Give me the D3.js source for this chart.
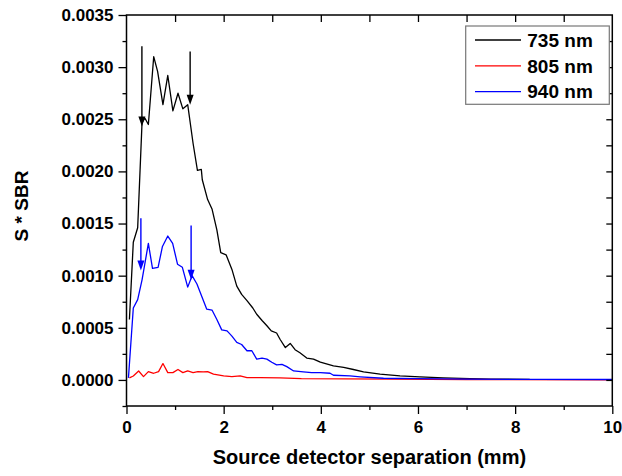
<!DOCTYPE html>
<html>
<head>
<meta charset="utf-8">
<script src="https://cdn.jsdelivr.net/npm/d3@7"></script>
<style>
  body { margin: 0; background: #fff; }
  text { font-family: Arial, "Liberation Sans", sans-serif; font-weight: bold; fill: #000; }
</style>
</head>
<body>
<svg id="svg"></svg>
<script>
// data (x in mm, y in S*SBR)
var x735 = [0.06,0.14,0.23,0.32,0.38,0.45,0.56,0.64,0.75,0.85,0.955,1.06,1.16,1.26,1.37,1.46,1.54,1.56,1.67,1.76,1.86,1.94,2.05,2.17,2.27,2.37,2.48,2.6,2.68,2.79,2.89,2.98,3.09,3.16,3.27,3.37,3.47,3.57,3.71,3.85,3.99,4.26,4.47,4.67,4.88,5.22,5.63,6.04,6.52,7.07,7.5,8.3]
var y735 = [0.00058,0.00132,0.00146,0.00247,0.00251,0.00245,0.0031,0.00296,0.00264,0.00292,0.00258,0.00275,0.0026,0.00264,0.00227,0.00201,0.00202,0.00192,0.00173,0.00164,0.00144,0.00122,0.0012,0.00106,0.0009,0.00082,0.00076,0.00069,0.00063,0.00057,0.00052,0.00047,0.00045,0.00039,0.00031,0.00035,0.00029,0.00026,0.00021,0.0002,0.00017,0.000134,0.00012,0.0001,0.000077,0.000055,0.000038,0.000029,0.00002,0.000013,0.000008,0.000005]

var x805 = [0.06,0.14,0.25,0.35,0.45,0.56,0.66,0.75,0.85,0.955,1.06,1.16,1.26,1.37,1.47,1.58,1.67,1.79,2.0,2.17,2.34,2.48,2.75,3.16,3.6,4.5,5.5,7,10]
var y805 = [0.00002,0.000038,0.000086,0.000032,0.00008,0.000064,0.00008,0.000157,0.00007,0.00007,0.0001,0.00007,0.000086,0.00007,0.00008,0.000077,0.00008,0.000055,0.000038,0.000032,0.000038,0.000022,0.000022,0.00002,0.000012,0.00001,0.000008,0.000004,0.000002]

var x940 = [0.04,0.14,0.23,0.32,0.38,0.45,0.535,0.65,0.74,0.85,0.95,1.05,1.15,1.26,1.35,1.45,1.55,1.65,1.76,1.86,1.96,2.07,2.17,2.27,2.37,2.48,2.58,2.68,2.79,2.89,2.99,3.09,3.2,3.3,3.44,3.64,3.81,3.99,4.19,4.26,4.6,4.81,5.29,5.98,7.0,8.5,10]
var y940 = [0.00002,0.00069,0.00077,0.00096,0.00112,0.00131,0.00107,0.00108,0.00128,0.00138,0.00131,0.00111,0.00108,0.00089,0.001,0.00092,0.0008,0.00068,0.00067,0.00058,0.00048,0.00047,0.00042,0.00036,0.00034,0.00028,0.00028,0.0002,0.00021,0.0002,0.00017,0.000144,0.00015,0.000128,0.000086,0.000077,0.00007,0.00007,0.000064,0.000045,0.000038,0.00003,0.000016,0.000013,0.000008,0.000005,0.000004]

var seriesNames = ["735 nm", "805 nm", "940 nm"]
var seriesColors = ["#000000", "#ff0000", "#0000ff"]

// arrows: x, y start, y tip, colour index
var arrowX = [0.317, 1.31, 0.296, 1.33]
var arrowFrom = [0.0032, 0.00315, 0.00155, 0.00148]
var arrowTo = [0.00243, 0.00264, 0.00105, 0.00096]
var arrowColor = [0, 0, 2, 2]

var xTicks = [0, 2, 4, 6, 8, 10]
var yTicks = [0, 0.0005, 0.001, 0.0015, 0.002, 0.0025, 0.003, 0.0035]

var W = 622, H = 476
var L = 126.5, R = 612.3, T = 15, B = 406

function init()
{
    var svg = d3.select("#svg")
        .attr("width", W)
        .attr("height", H)

    var x = d3.scaleLinear().domain([0, 10]).range([L, R])
    var y = d3.scaleLinear().domain([-0.00025, 0.0035]).range([B, T])

    var line = d3.line()
        .x(function(d){return x(d[0]);})
        .y(function(d){return y(d[1]);})

    var xs = [x735, x805, x940], ys = [y735, y805, y940]
    for (var i = 0; i < 3; i++) {
        var pts = d3.zip(xs[i], ys[i])
        svg.append("path")
            .datum(pts)
            .attr("d", line)
            .attr("fill", "none")
            .attr("stroke", seriesColors[i])
            .attr("stroke-width", 1.3)
            .attr("stroke-linejoin", "round")
    }

    // arrows
    for (var k = 0; k < arrowX.length; k++) {
        var ax = x(arrowX[k]), y0 = y(arrowFrom[k]), y1 = y(arrowTo[k])
        var c = seriesColors[arrowColor[k]]
        svg.append("line")
            .attr("x1", ax).attr("x2", ax)
            .attr("y1", y0).attr("y2", y1 - 8)
            .attr("stroke", c).attr("stroke-width", 1.4)
        svg.append("path")
            .attr("d", "M" + (ax - 3.5) + "," + (y1 - 10) + "L" + (ax + 3.5) + "," + (y1 - 10) + "L" + ax + "," + y1 + "Z")
            .attr("fill", c)
    }

    // frame
    svg.append("rect")
        .attr("x", L).attr("y", T)
        .attr("width", R - L).attr("height", B - T)
        .attr("fill", "none")
        .attr("stroke", "#000")
        .attr("stroke-width", 1.5)

    // bottom axis
    var xAxis = d3.axisBottom(x).tickValues(xTicks).tickSize(8).tickPadding(7).tickFormat(d3.format("d"))
    var gx = svg.append("g").attr("transform", "translate(0," + B + ")").call(xAxis)
    gx.select(".domain").remove()
    gx.selectAll("text").style("font-size", "17px").style("font-family", "Arial, 'Liberation Sans', sans-serif")
    var gxm = svg.append("g").attr("transform", "translate(0," + B + ")")
        .call(d3.axisBottom(x).tickValues(d3.range(1, 10, 2)).tickSize(4).tickFormat(""))
    gxm.select(".domain").remove()

    // top mirror ticks
    var gt = svg.append("g").attr("transform", "translate(0," + T + ")")
        .call(d3.axisBottom(x).tickValues(d3.range(1, 10)).tickSize(7).tickFormat(""))
    gt.select(".domain").remove()

    // left axis
    var yAxis = d3.axisLeft(y).tickValues(yTicks).tickSize(8).tickPadding(5).tickFormat(d3.format(".4f"))
    var gy = svg.append("g").attr("transform", "translate(" + L + ",0)").call(yAxis)
    gy.select(".domain").remove()
    gy.selectAll("text").style("font-size", "17px").style("font-family", "Arial, 'Liberation Sans', sans-serif")
    var minorY = [-0.00025, 0.00025, 0.00075, 0.00125, 0.00175, 0.00225, 0.00275, 0.00325]
    var gym = svg.append("g").attr("transform", "translate(" + L + ",0)")
        .call(d3.axisLeft(y).tickValues(minorY).tickSize(4).tickFormat(""))
    gym.select(".domain").remove()

    // right mirror ticks
    var gr = svg.append("g").attr("transform", "translate(" + R + ",0)")
        .call(d3.axisLeft(y).tickValues(yTicks.concat(minorY).filter(function(v){return v > -0.0002 && v < 0.0034;})).tickSize(6).tickFormat(""))
    gr.select(".domain").remove()

    svg.selectAll(".tick line").attr("stroke", "#000").attr("stroke-width", 1.3)

    // titles
    svg.append("text")
        .attr("x", (L + R) / 2).attr("y", 464)
        .attr("text-anchor", "middle")
        .style("font-size", "20px")
        .text("Source detector separation (mm)")
    svg.append("text")
        .attr("transform", "translate(28,206) rotate(-90)")
        .attr("text-anchor", "middle")
        .style("font-size", "19px")
        .text("S * SBR")

    // legend
    var lg = svg.append("g")
    lg.append("rect")
        .attr("x", 465.7).attr("y", 26)
        .attr("width", 143.6).attr("height", 78.3)
        .attr("fill", "#fff")
        .attr("stroke", "#777")
        .attr("stroke-width", 1.2)
    seriesNames.forEach(function(name, i) {
        var ly = 40 + i * 25.8
        lg.append("line")
            .attr("x1", 475).attr("x2", 521)
            .attr("y1", ly).attr("y2", ly)
            .attr("stroke", seriesColors[i]).attr("stroke-width", 1.3)
        lg.append("text")
            .attr("x", 527.3).attr("y", ly).attr("dy", "0.36em")
            .style("font-size", "19px")
            .text(name)
    })
}

init()
</script>
</body>
</html>
